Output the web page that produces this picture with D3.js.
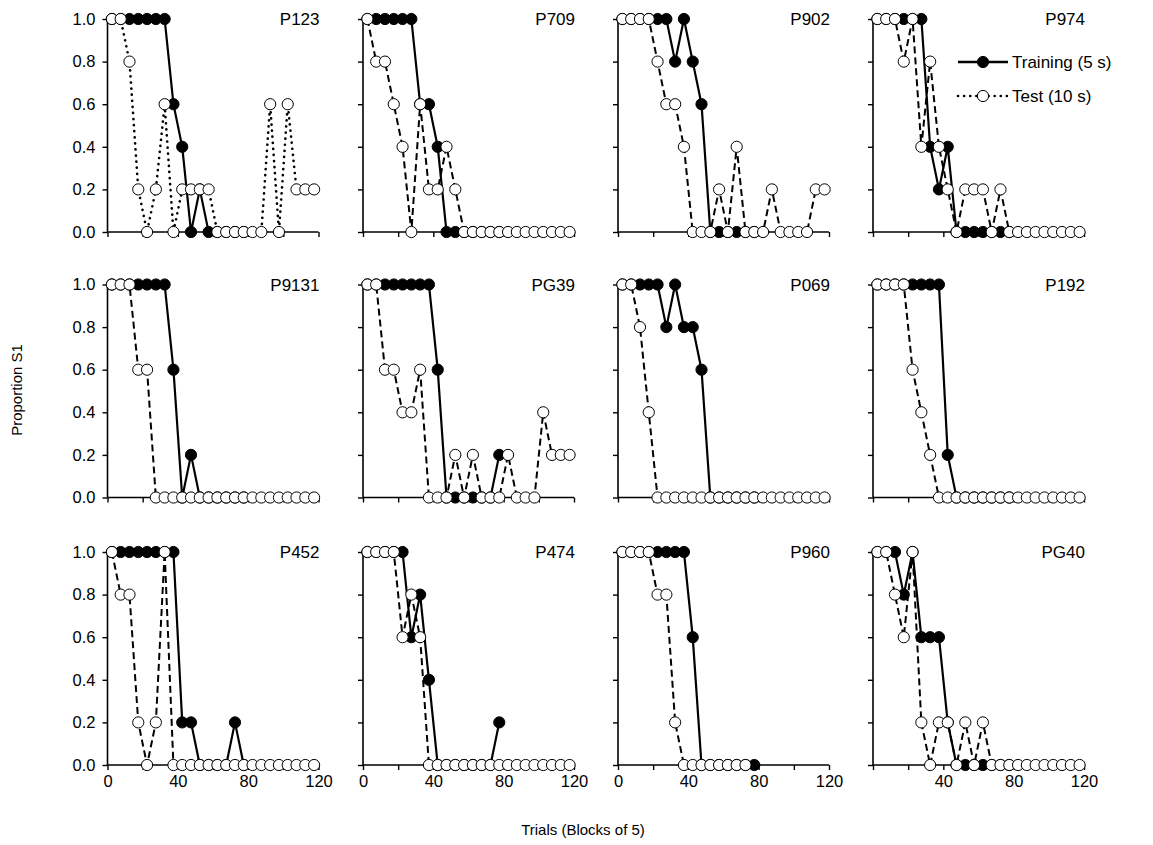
<!DOCTYPE html>
<html>
<head>
<meta charset="utf-8">
<script src="https://cdn.jsdelivr.net/npm/d3@7"></script>
<style>
  body { margin: 0; background: #fff; }
  svg text { font-family: "Liberation Sans", Arial, sans-serif; fill: #000; }
</style>
</head>
<body>
<svg id="chart" width="1153" height="845"></svg>
<script>
// ---------- DATA ---------- //
const panelIds = ["P123", "P709", "P902", "P974",
                  "P9131", "PG39", "P069", "P192",
                  "P452", "P474", "P960", "PG40"];

// block midpoints (trials)
const blockTrials = [2.5, 7.5, 12.5, 17.5, 22.5, 27.5, 32.5, 37.5, 42.5, 47.5, 52.5, 57.5,
                     62.5, 67.5, 72.5, 77.5, 82.5, 87.5, 92.5, 97.5, 102.5, 107.5, 112.5, 117.5];

// Training (5 s), proportion S1 per block
const trainingValues = [
  [1, 1, 1, 1, 1, 1, 1, 0.6, 0.4, 0, 0.2, 0, 0, 0, 0, 0],
  [1, 1, 1, 1, 1, 1, 0.6, 0.6, 0.4, 0, 0, 0, 0, 0, 0, 0],
  [1, 1, 1, 1, 1, 1, 0.8, 1, 0.8, 0.6, 0, 0, 0, 0, 0, 0],
  [1, 1, 1, 1, 1, 1, 0.4, 0.2, 0.4, 0, 0, 0, 0, 0, 0, 0],
  [1, 1, 1, 1, 1, 1, 1, 0.6, 0, 0.2, 0, 0, 0, 0, 0, 0],
  [1, 1, 1, 1, 1, 1, 1, 1, 0.6, 0, 0, 0, 0, 0, 0, 0.2],
  [1, 1, 1, 1, 1, 0.8, 1, 0.8, 0.8, 0.6, 0, 0, 0, 0, 0, 0],
  [1, 1, 1, 1, 1, 1, 1, 1, 0.2, 0, 0, 0, 0, 0, 0, 0],
  [1, 1, 1, 1, 1, 1, 1, 1, 0.2, 0.2, 0, 0, 0, 0, 0.2, 0],
  [1, 1, 1, 1, 1, 0.6, 0.8, 0.4, 0, 0, 0, 0, 0, 0, 0, 0.2],
  [1, 1, 1, 1, 1, 1, 1, 1, 0.6, 0, 0, 0, 0, 0, 0, 0],
  [1, 1, 1, 0.8, 1, 0.6, 0.6, 0.6, 0.2, 0, 0, 0, 0, 0, 0, 0]
];

// Test (10 s), proportion S1 per block
const testValues = [
  [1, 1, 0.8, 0.2, 0, 0.2, 0.6, 0, 0.2, 0.2, 0.2, 0.2, 0, 0, 0, 0, 0, 0, 0.6, 0, 0.6, 0.2, 0.2, 0.2],
  [1, 0.8, 0.8, 0.6, 0.4, 0, 0.6, 0.2, 0.2, 0.4, 0.2, 0, 0, 0, 0, 0, 0, 0, 0, 0, 0, 0, 0, 0],
  [1, 1, 1, 1, 0.8, 0.6, 0.6, 0.4, 0, 0, 0, 0.2, 0, 0.4, 0, 0, 0, 0.2, 0, 0, 0, 0, 0.2, 0.2],
  [1, 1, 1, 0.8, 1, 0.4, 0.8, 0.4, 0.2, 0, 0.2, 0.2, 0.2, 0, 0.2, 0, 0, 0, 0, 0, 0, 0, 0, 0],
  [1, 1, 1, 0.6, 0.6, 0, 0, 0, 0, 0, 0, 0, 0, 0, 0, 0, 0, 0, 0, 0, 0, 0, 0, 0],
  [1, 1, 0.6, 0.6, 0.4, 0.4, 0.6, 0, 0, 0, 0.2, 0, 0.2, 0, 0, 0, 0.2, 0, 0, 0, 0.4, 0.2, 0.2, 0.2],
  [1, 1, 0.8, 0.4, 0, 0, 0, 0, 0, 0, 0, 0, 0, 0, 0, 0, 0, 0, 0, 0, 0, 0, 0, 0],
  [1, 1, 1, 1, 0.6, 0.4, 0.2, 0, 0, 0, 0, 0, 0, 0, 0, 0, 0, 0, 0, 0, 0, 0, 0, 0],
  [1, 0.8, 0.8, 0.2, 0, 0.2, 1, 0, 0, 0, 0, 0, 0, 0, 0, 0, 0, 0, 0, 0, 0, 0, 0, 0],
  [1, 1, 1, 1, 0.6, 0.8, 0.6, 0, 0, 0, 0, 0, 0, 0, 0, 0, 0, 0, 0, 0, 0, 0, 0, 0],
  [1, 1, 1, 1, 0.8, 0.8, 0.2, 0, 0, 0, 0, 0, 0, 0, 0],
  [1, 1, 0.8, 0.6, 1, 0.2, 0, 0.2, 0.2, 0, 0.2, 0, 0.2, 0, 0, 0, 0, 0, 0, 0, 0, 0, 0, 0]
];

const xTickValues = [0, 20, 40, 60, 80, 100, 120];
const xTickLabels = [0, 40, 80, 120];
const yTickValues = [0, 0.2, 0.4, 0.6, 0.8, 1.0];
const seriesNames = ["Training (5 s)", "Test (10 s)"];

// ---------- LAYOUT ---------- //
const colLeft = [107.5, 363, 618, 873];
const rowTop = [19, 284.5, 552];
const plotW = 211, plotH = 213;
const dottedPanels = ["P123"];
const markerR = 5.6;

const svg = d3.select("#chart");

const x = d3.scaleLinear().domain([0, 120]).range([0, plotW]);
const y = d3.scaleLinear().domain([0, 1]).range([plotH, 0]);

const line = d3.line()
  .x((d, i) => x(blockTrials[i]))
  .y(d => y(d));

panelIds.forEach((id, p) => {
  const col = p % 4, row = Math.floor(p / 4);
  const g = svg.append("g")
    .attr("transform", "translate(" + colLeft[col] + "," + rowTop[row] + ")");

  // axes
  const yAxis = d3.axisLeft(y).tickValues(yTickValues).tickSize(5)
    .tickFormat(col === 0 ? d3.format(".1f") : "");
  const yG = g.append("g").call(yAxis);

  const isBottom = row === 2;
  const xAxis = d3.axisBottom(x).tickValues(xTickValues).tickSize(5)
    .tickFormat(d => {
      if (!isBottom) return "";
      if (col === 3 && d === 0) return "";
      return xTickLabels.indexOf(d) >= 0 ? d : "";
    });
  const xG = g.append("g").attr("transform", "translate(0," + plotH + ")").call(xAxis);

  [yG, xG].forEach(a => {
    a.select(".domain").attr("stroke", "#000").attr("stroke-width", 1.6)
      .attr("d", null);
    a.selectAll(".tick line").attr("stroke", "#000").attr("stroke-width", 1.4);
    a.selectAll(".tick text").style("font-size", "16.5px")
      .style("font-family", "'Liberation Sans', Arial, sans-serif");
  });
  yG.select(".domain").remove();
  xG.select(".domain").remove();
  g.append("line").attr("x1", 0).attr("x2", 0).attr("y1", 0).attr("y2", plotH)
    .attr("stroke", "#000").attr("stroke-width", 1.6);
  g.append("line").attr("x1", 0).attr("x2", plotW).attr("y1", plotH).attr("y2", plotH)
    .attr("stroke", "#000").attr("stroke-width", 1.6);
  yG.selectAll(".tick text").attr("x", -12);
  xG.selectAll(".tick text").attr("y", 10);

  // training
  const tr = trainingValues[p];
  g.append("path").datum(tr)
    .attr("d", line)
    .attr("fill", "none").attr("stroke", "#000").attr("stroke-width", 2.2);
  g.selectAll(".tr").data(tr).enter().append("circle")
    .attr("class", "tr")
    .attr("cx", (d, i) => x(blockTrials[i]))
    .attr("cy", d => y(d))
    .attr("r", markerR)
    .attr("fill", "#000").attr("stroke", "#000").attr("stroke-width", 1);

  // test
  const te = testValues[p];
  const dotted = dottedPanels.indexOf(id) >= 0;
  g.append("path").datum(te)
    .attr("d", line)
    .attr("fill", "none").attr("stroke", "#000")
    .attr("stroke-width", dotted ? 2.6 : 2)
    .attr("stroke-linecap", dotted ? "round" : "butt")
    .attr("stroke-dasharray", dotted ? "0.1,6" : "7,4");
  g.selectAll(".te").data(te).enter().append("circle")
    .attr("class", "te")
    .attr("cx", (d, i) => x(blockTrials[i]))
    .attr("cy", d => y(d))
    .attr("r", markerR)
    .attr("fill", "#fff").attr("stroke", "#000").attr("stroke-width", 1);

  // panel label
  g.append("text")
    .attr("x", plotW + 1).attr("y", 6)
    .attr("text-anchor", "end")
    .style("font-size", "17px")
    .text(id);
});

// ---------- LEGEND ---------- //
const leg = svg.append("g").attr("transform", "translate(958,0)");
const legY = [62, 96];
seriesNames.forEach((name, i) => {
  const isTest = i === 1;
  leg.append("line")
    .attr("x1", 0).attr("x2", 50).attr("y1", legY[i]).attr("y2", legY[i])
    .attr("stroke", "#000")
    .attr("stroke-width", isTest ? 2.6 : 2.6)
    .attr("stroke-linecap", isTest ? "round" : "butt")
    .attr("stroke-dasharray", isTest ? "0.1,6" : null);
  leg.append("circle")
    .attr("cx", 25).attr("cy", legY[i]).attr("r", markerR)
    .attr("fill", isTest ? "#fff" : "#000").attr("stroke", "#000").attr("stroke-width", 1);
  leg.append("text")
    .attr("x", 54).attr("y", legY[i]).attr("dy", "0.35em")
    .style("font-size", "17px")
    .text(name);
});

// ---------- AXIS TITLES ---------- //
svg.append("text")
  .attr("transform", "translate(22,390) rotate(-90)")
  .attr("text-anchor", "middle")
  .style("font-size", "15px")
  .text("Proportion S1");

svg.append("text")
  .attr("x", 583).attr("y", 835)
  .attr("text-anchor", "middle")
  .style("font-size", "15px")
  .text("Trials (Blocks of 5)");
</script>
</body>
</html>
